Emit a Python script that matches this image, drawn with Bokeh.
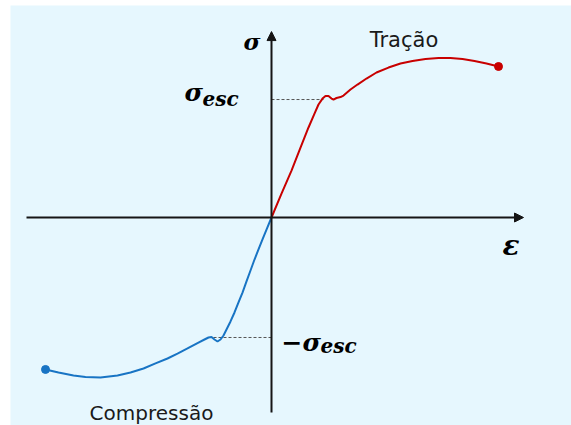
from bokeh.plotting import figure
from bokeh.models import Range1d, Arrow, NormalHead, Label
from bokeh.embed import file_html
from bokeh.resources import INLINE

# ---- data (normalised: sigma_esc = 1) ----
tension_strain = [0, 0.20, 0.40, 0.58, 0.74, 0.86, 0.94, 1.02, 1.08, 1.14, 1.20, 1.24, 1.30,
                  1.38, 1.44, 1.58, 1.72, 1.90, 2.10, 2.34, 2.58, 2.82, 3.08, 3.34, 3.58,
                  3.82, 4.06, 4.30, 4.54]
tension_stress = [0, 0.203, 0.398, 0.593, 0.763, 0.881, 0.958, 1.008, 1.030, 1.030, 1.008,
                  1.000, 1.013, 1.021, 1.034, 1.085, 1.127, 1.178, 1.229, 1.271, 1.305,
                  1.326, 1.343, 1.352, 1.352, 1.343, 1.326, 1.305, 1.280]

compression_strain = [0, -0.10, -0.18, -0.26, -0.34, -0.42, -0.50, -0.58, -0.66, -0.74,
                      -0.82, -0.90, -0.96, -1.02, -1.08, -1.14, -1.20, -1.26, -1.34, -1.48,
                      -1.68, -1.88, -2.08, -2.32, -2.56, -2.82, -3.08, -3.42, -3.72, -3.96,
                      -4.26, -4.52]
compression_stress = [0, -0.102, -0.186, -0.271, -0.356, -0.449, -0.542, -0.636, -0.720,
                      -0.805, -0.881, -0.949, -1.000, -1.034, -1.051, -1.034, -1.013, -1.017,
                      -1.034, -1.064, -1.110, -1.153, -1.195, -1.237, -1.280, -1.314, -1.339,
                      -1.356, -1.352, -1.339, -1.314, -1.288]

tension_yield = 1.0
tension_yield_strain = 1.04
compression_yield = -1.017
compression_yield_strain = -1.26

labels_regions = ["Tração", "Compressão"]

RED = "#C80000"
BLUE = "#1874C4"
BG = "#E6F7FE"

p = figure(width=571, height=425, output_backend="svg", toolbar_location=None,
           x_range=Range1d(-5.22, 6.0), y_range=Range1d(-1.763, 1.797),
           x_axis_location=None, y_axis_location=None,
           background_fill_color=BG, border_fill_color="white",
           min_border=0, min_border_left=10, min_border_top=5, outline_line_color=None)
p.grid.grid_line_color = None

# axes with arrows
p.add_layout(Arrow(x_start=-4.9, y_start=0, x_end=5.04, y_end=0, line_width=2, line_color="#151515",
                   end=NormalHead(size=9, line_color="#151515", fill_color="#151515")))
p.add_layout(Arrow(x_start=0, y_start=-1.653, x_end=0, y_end=1.576, line_width=2, line_color="#151515",
                   end=NormalHead(size=9, line_color="#151515", fill_color="#151515")))

# yield dashed lines
p.line([0, tension_yield_strain], [tension_yield, tension_yield], line_dash="3 2",
       line_color="#555555", line_width=1)
p.line([compression_yield_strain, 0], [compression_yield, compression_yield], line_dash="3 2",
       line_color="#555555", line_width=1)

# curves
p.line(tension_strain, tension_stress, line_color=RED, line_width=2)
p.line(compression_strain, compression_stress, line_color=BLUE, line_width=2)
p.scatter([tension_strain[-1]], [tension_stress[-1]], size=8, color=RED)
p.scatter([compression_strain[-1]], [compression_stress[-1]], size=8, color=BLUE)

# text labels
p.add_layout(Label(x=2.65, y=1.508, text=labels_regions[0], text_align="center",
                   text_baseline="alphabetic", text_font="DejaVu Sans", text_font_size="21px",
                   text_color="#1a1a1a"))
p.add_layout(Label(x=-2.4, y=-1.66, text=labels_regions[1], text_align="center",
                   text_baseline="alphabetic", text_font="DejaVu Sans", text_font_size="20px",
                   text_color="#1a1a1a"))

MATH = dict(text_font="DejaVu Serif", text_font_style="bold italic", text_color="black",
            text_baseline="alphabetic")
p.add_layout(Label(x=-0.39, y=1.49, text="σ", text_align="center", text_font_size="23px", **MATH))
p.add_layout(Label(x=-1.74, y=1.059, text="σ", text_align="left", text_font_size="25px", **MATH))
p.add_layout(Label(x=-1.38, y=1.008, text="esc", text_align="left", text_font_size="20px", **MATH))
p.add_layout(Label(x=0.2, y=-1.059, text="−σ", text_align="left", text_font_size="25px", **MATH))
p.add_layout(Label(x=0.98, y=-1.093, text="esc", text_align="left", text_font_size="20px", **MATH))
p.add_layout(Label(x=4.62, y=-0.24, text="ε", text_align="left", text_font_size="28px", **MATH))

open("out.html", "w").write(file_html(p, INLINE))
